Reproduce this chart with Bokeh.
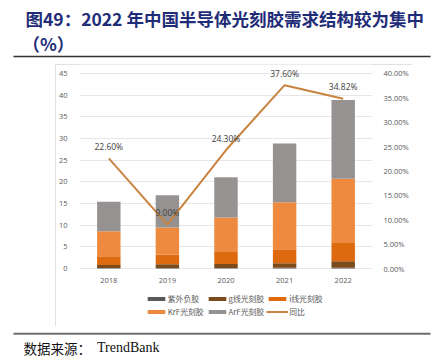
from bokeh.plotting import figure
from bokeh.layouts import column, row
from bokeh.models import (ColumnDataSource, Range1d, LinearAxis, FixedTicker, Spacer,
                          NumeralTickFormatter, LabelSet, Legend, LegendItem)
from bokeh.core.properties import value
from bokeh.embed import file_html
from bokeh.resources import INLINE

# ---------------- data ----------------
years = ["2018", "2019", "2020", "2021", "2022"]
uv_neg = [0.12, 0.12, 0.12, 0.15, 0.2]
g_line = [0.71, 0.88, 0.94, 1.07, 1.48]
i_line = [2.01, 2.15, 2.94, 3.23, 4.39]
krf = [5.76, 6.30, 7.77, 10.85, 14.63]
arf = [6.80, 7.45, 9.30, 13.55, 18.20]
yoy = [22.60, 9.00, 24.30, 37.60, 34.82]

left_ticks = [0, 5, 10, 15, 20, 25, 30, 35, 40, 45]
right_ticks = [0.0, 0.05, 0.10, 0.15, 0.20, 0.25, 0.30, 0.35, 0.40]

series = ["紫外负胶", "g线光刻胶", "i线光刻胶", "KrF光刻胶", "ArF光刻胶"]
yoy_name = "同比"
title1 = "图49：2022 年中国半导体光刻胶需求结构较为集中"
title2 = "（%）"
source_label = "数据来源："
source_name = "TrendBank"

colors = ["#595959", "#7B4B1B", "#DE6A10", "#EE8A3F", "#969292"]
line_color = "#C8843F"
title_color = "#1F2D78"

def deco_fig(w, h):
    f = figure(width=w, height=h, x_range=Range1d(0, w), y_range=Range1d(h, 0),
               output_backend="svg", toolbar_location=None, min_border=0,
               x_axis_type=None, y_axis_type=None)
    f.outline_line_color = None
    f.grid.visible = False
    return f

# ---------------- title strip ----------------
T = deco_fig(431, 64)
T.text(x=[25], y=[18], text=[title1], text_font=value("Noto Sans CJK SC"),
       text_font_style="bold", text_font_size="17.5px", text_color=title_color,
       text_baseline="middle")
T.text(x=[22], y=[43], text=[title2], text_font=value("Noto Sans CJK SC"),
       text_font_style="bold", text_font_size="17.5px", text_color=title_color,
       text_baseline="middle")
T.segment(x0=[13], y0=[56], x1=[430], y1=[56], line_color="#333333", line_width=1.3)

# ---------------- chart ----------------
src = ColumnDataSource(dict(
    year=years, s0=uv_neg, s1=g_line, s2=i_line, s3=krf, s4=arf,
    yoy=[v / 100 for v in yoy],
    lbl=[f"{v:.2f}%" for v in yoy],
))

# frame spans the chart box vertically; value 0..45 occupies 195 px
M = figure(x_range=years, y_range=Range1d(-12.923, 47.077), width=357, height=262,
           output_backend="svg", toolbar_location=None,
           min_border_left=22, min_border_right=40, min_border_top=0, min_border_bottom=2,
           styles={"outline": "1px solid #D9D9D9", "outline-offset": "-1px"})
M.outline_line_color = None
M.extra_y_ranges = {"pct": Range1d(-0.11487, 0.41846)}

bars = M.vbar_stack(["s0", "s1", "s2", "s3", "s4"], x="year", width=0.4, source=src,
                    color=colors, line_color=None)
ln = M.line(x="year", y="yoy", source=src, y_range_name="pct",
            line_color=line_color, line_width=2)

M.add_layout(LabelSet(x="year", y="yoy", text="lbl", source=src, y_range_name="pct",
                      y_offset=12, text_align="center", text_baseline="middle",
                      text_font=value("Open Sans"), text_font_size="8.5px",
                      text_color="#404040"))

tick_font = "Open Sans"
def style_axis(ax, standoff):
    ax.axis_line_color = None
    ax.major_tick_line_color = None
    ax.minor_tick_line_color = None
    ax.major_label_text_font = tick_font
    ax.major_label_text_font_size = "7.5px"
    ax.major_label_text_color = "#595959"
    ax.major_label_standoff = standoff

style_axis(M.xaxis[0], 3)
M.xaxis[0].fixed_location = 0
style_axis(M.yaxis[0], 6)
M.yaxis[0].ticker = FixedTicker(ticks=left_ticks)

rax = LinearAxis(y_range_name="pct", ticker=FixedTicker(ticks=right_ticks),
                 formatter=NumeralTickFormatter(format="0.00%"))
style_axis(rax, 5)
M.add_layout(rax, "right")

M.xgrid.grid_line_color = None
M.ygrid.grid_line_color = "#E6E6E6"
M.ygrid.grid_line_width = 1

items = [LegendItem(label=series[k], renderers=[bars[k]]) for k in range(5)]
items.append(LegendItem(label=yoy_name, renderers=[ln]))
leg = Legend(items=items, location=(65.8, 6.75), orientation="horizontal", ncols=3,
             glyph_width=22, glyph_height=5, label_height=10, label_standoff=1,
             spacing=2, padding=0, margin=0, border_line_color=None,
             background_fill_alpha=0,
             label_text_font="Noto Sans CJK SC", label_text_font_size="7.8px",
             label_text_color="#595959")
M.add_layout(leg, "center")

# ---------------- footer strip ----------------
B = deco_fig(431, 32)
B.segment(x0=[13], y0=[7.3], x1=[430], y1=[7.3], line_color="#6E6E6E", line_width=2)
B.text(x=[23], y=[21.3], text=[source_label], text_font=value("Noto Sans CJK SC"),
       text_font_size="13.5px", text_color="#111111", text_baseline="middle")
B.text(x=[96.5], y=[21.3], text=[source_name], text_font=value("Liberation Serif"),
       text_font_size="14px", text_color="#111111", text_baseline="middle")

layout = column(T, row(Spacer(width=55, height=262), M), B)
open("out.html", "w").write(file_html(layout, INLINE))
